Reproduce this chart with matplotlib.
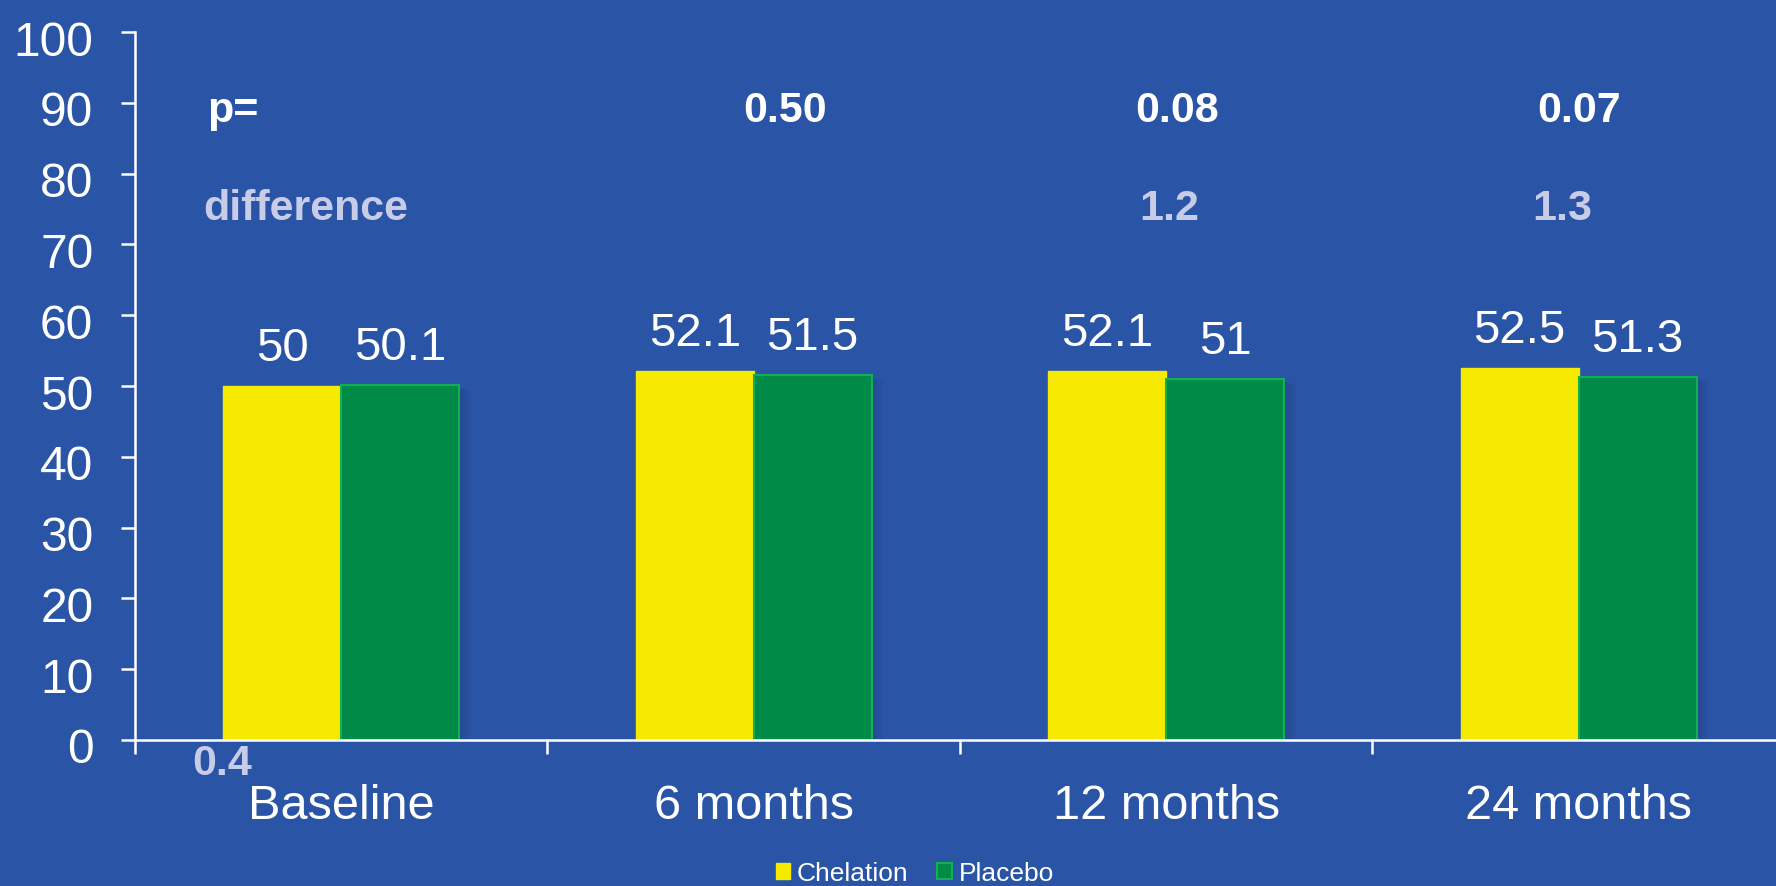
import matplotlib.pyplot as plt
from matplotlib.patches import Patch, Rectangle
from matplotlib.transforms import ScaledTranslation

plt.rcParams['font.family'] = ['Liberation Sans', 'DejaVu Sans']

categories = ['Baseline', '6 months', '12 months', '24 months']
chelation = [50, 52.1, 52.1, 52.5]
placebo = [50.1, 51.5, 51.0, 51.3]
p_values = ['', '0.50', '0.08', '0.07']
p_xpos = [None, 1.076, 2.027, 3.0]
differences = ['', '', '1.2', '1.3']
diff_xpos = [None, None, 2.007, 2.96]

bg = '#2a54a5'
yellow = '#f5ea00'
green = '#008a48'
lavender = '#c9cce8'

fig = plt.figure(figsize=(17.76, 8.86), dpi=100, facecolor=bg)
ax = fig.add_axes([0.076, 0.1648, 0.929, 0.799])
ax.set_facecolor(bg)

w = 0.286
x = list(range(len(categories)))

# soft drop shadow on the right of each bar pair
for xi, hc, hp in zip(x, chelation, placebo):
    for k in range(8):
        ax.add_patch(Rectangle((xi + w - 0.004 + k * 0.004, 0), 0.004,
                               hp - 0.4 - k * 0.05, facecolor='#1a2f6a',
                               alpha=0.35 * (1 - k / 8), edgecolor='none', zorder=1))

ax.bar([xi - w / 2 for xi in x], chelation, w, color=yellow, edgecolor=yellow,
       linewidth=1, zorder=2, label='Chelation')
ax.bar([xi + w / 2 for xi in x], placebo, w, color=green, edgecolor='#12b050',
       linewidth=1.5, zorder=2, label='Placebo')

for xi, hc, hp in zip(x, chelation, placebo):
    for xx, v in ((xi - w / 2, hc), (xi + w / 2, hp)):
        ax.annotate(f'{v:g}', (xx, v), xytext=(0, 18), textcoords='offset points',
                    ha='center', va='baseline', color='white', fontsize=34)

ax.text(-0.325, 87.3, 'p=', color='white', fontsize=31, fontweight='bold',
        ha='left', va='baseline')
ax.text(-0.334, 73.4, 'difference', color=lavender, fontsize=31,
        fontweight='bold', ha='left', va='baseline')
for pv, px in zip(p_values, p_xpos):
    if pv:
        ax.text(px, 87.3, pv, color='white', fontsize=31, fontweight='bold',
                ha='center', va='baseline')
for dv, dx in zip(differences, diff_xpos):
    if dv:
        ax.text(dx, 73.4, dv, color=lavender, fontsize=31, fontweight='bold',
                ha='center', va='baseline')
ax.text(-0.361, -4.9, '0.4', color=lavender, fontsize=31, fontweight='bold',
        ha='left', va='baseline', clip_on=False)

ax.set_xlim(-0.5, 3.5)
ax.set_ylim(0, 100)
ax.set_yticks(range(0, 101, 10))
ax.set_xticks([-0.5, 0.5, 1.5, 2.5])
ax.set_xticklabels([])
ax.set_xticks(x, minor=True)
ax.set_xticklabels(categories, minor=True)

for s in ('top', 'right'):
    ax.spines[s].set_visible(False)
for s in ('left', 'bottom'):
    ax.spines[s].set_color('white')
    ax.spines[s].set_linewidth(1.8)

ax.tick_params(axis='y', colors='white', labelsize=34.5, length=10, width=1.8,
               direction='out', pad=20)
ax.tick_params(axis='x', which='major', colors='white', length=10, width=1.8,
               direction='out')
ax.tick_params(axis='x', which='minor', colors='white', labelsize=35, length=0,
               pad=32)

# y labels sit slightly below their ticks
shift = ScaledTranslation(0, -6 / 100, fig.dpi_scale_trans)
for lbl in ax.get_yticklabels():
    lbl.set_transform(lbl.get_transform() + shift)

handles = [Patch(facecolor=yellow, edgecolor=yellow, label='Chelation'),
           Patch(facecolor=green, edgecolor='#12b050', linewidth=1.5, label='Placebo')]
fig.legend(handles=handles, loc='center', bbox_to_anchor=(0.515, 0.014),
           ncol=2, frameon=False, fontsize=19, labelcolor='white',
           handlelength=0.55, handleheight=0.55, handletextpad=0.25,
           columnspacing=1.1, borderpad=0)

fig.savefig('out.png', facecolor=bg, dpi=100)
